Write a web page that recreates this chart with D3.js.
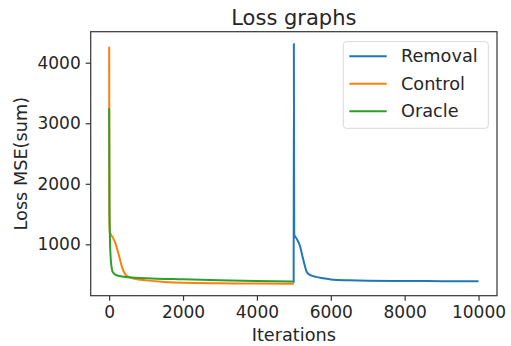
<!DOCTYPE html>
<html>
<head>
<meta charset="utf-8">
<script src="https://cdn.jsdelivr.net/npm/d3@7"></script>
<style>
  html, body { margin: 0; padding: 0; background: #fff; }
  text { font-family: "DejaVu Sans", sans-serif; fill: #262626; }
</style>
</head>
<body>
<div id="chart"></div>
<script>
// Loss curves
const controlIters = [0, 5, 20, 50, 100, 150, 250, 350, 430, 500, 700, 1000, 1500, 2000, 3000, 4000, 5000];
const controlLoss  = [4264, 1500, 1200, 1160, 1110, 1050, 850, 620, 510, 470, 430, 405, 378, 364, 356, 352, 350];

const oracleIters = [0, 10, 30, 60, 100, 200, 400, 700, 1000, 2000, 3000, 4000, 5000];
const oracleLoss  = [3246, 1500, 900, 650, 540, 490, 465, 450, 440, 422, 408, 396, 388];

const removalIters = [4995, 5000, 5010, 5080, 5160, 5250, 5350, 5450, 5600, 5800, 6000, 6500, 7000, 8000, 9000, 10000];
const removalLoss  = [365, 4314, 1160, 1090, 985, 760, 545, 490, 463, 440, 420, 405, 398, 394, 392, 390];

const seriesNames = ["Removal", "Control", "Oracle"];
const seriesColors = ["#1f77b4", "#ff7f0e", "#2ca02c"];
const xTicks = [0, 2000, 4000, 6000, 8000, 10000];
const yTicks = [1000, 2000, 3000, 4000];

const width = 511, height = 346;
const margin = {left: 90.7, right: 511 - 497, top: 31.7, bottom: 346 - 295.7};

const series = [
  {name: seriesNames[0], color: seriesColors[0], xs: removalIters, ys: removalLoss},
  {name: seriesNames[1], color: seriesColors[1], xs: controlIters, ys: controlLoss},
  {name: seriesNames[2], color: seriesColors[2], xs: oracleIters, ys: oracleLoss}
];

// matplotlib style 5% padding
const allY = series.flatMap(s => s.ys);
const xMin = 0, xMax = 10000;
const yMin = d3.min(allY), yMax = d3.max(allY);
const xPad = (xMax - xMin) * 0.05, yPad = (yMax - yMin) * 0.05;

const x = d3.scaleLinear().domain([xMin - xPad, xMax + xPad]).range([margin.left, width - margin.right]);
const y = d3.scaleLinear().domain([yMin - yPad, yMax + yPad]).range([height - margin.bottom, margin.top]);

const svg = d3.select("#chart").append("svg")
  .attr("width", width)
  .attr("height", height);

// lines
const line = d3.line().x(d => x(d[0])).y(d => y(d[1])).curve(d3.curveMonotoneX);
series.forEach(s => {
  svg.append("path")
    .datum(s.xs.map((v, i) => [v, s.ys[i]]))
    .attr("fill", "none")
    .attr("stroke", s.color)
    .attr("stroke-width", 2)
    .attr("stroke-linejoin", "round")
    .attr("d", line);
});

// axes
const xAxis = svg.append("g")
  .attr("transform", `translate(0,${height - margin.bottom})`)
  .call(d3.axisBottom(x).tickValues(xTicks).tickSize(5).tickPadding(5).tickFormat(d3.format("d")));
const yAxis = svg.append("g")
  .attr("transform", `translate(${margin.left},0)`)
  .call(d3.axisLeft(y).tickValues(yTicks).tickSize(5).tickPadding(5).tickFormat(d3.format("d")));
[xAxis, yAxis].forEach(a => {
  a.select(".domain").remove();
  a.selectAll("line").attr("stroke", "#333").attr("stroke-width", 1.2);
  a.selectAll("text").attr("font-size", 17).attr("fill", "#262626");
});

// frame
svg.append("rect")
  .attr("x", margin.left).attr("y", margin.top)
  .attr("width", width - margin.left - margin.right)
  .attr("height", height - margin.top - margin.bottom)
  .attr("fill", "none")
  .attr("stroke", "#333")
  .attr("stroke-width", 1.2);

// title and labels
svg.append("text")
  .attr("x", (margin.left + width - margin.right) / 2)
  .attr("y", 25)
  .attr("text-anchor", "middle")
  .attr("font-size", 21)
  .text("Loss graphs");

svg.append("text")
  .attr("x", (margin.left + width - margin.right) / 2)
  .attr("y", 341)
  .attr("text-anchor", "middle")
  .attr("font-size", 17.7)
  .text("Iterations");

svg.append("text")
  .attr("transform", `translate(27,${(margin.top + height - margin.bottom) / 2}) rotate(-90)`)
  .attr("text-anchor", "middle")
  .attr("font-size", 17.7)
  .text("Loss MSE(sum)");

// legend
const legend = svg.append("g").attr("transform", "translate(343.3,41.7)");
legend.append("rect")
  .attr("width", 145).attr("height", 86.6)
  .attr("rx", 3)
  .attr("fill", "#fff")
  .attr("fill-opacity", 0.8)
  .attr("stroke", "#d9d9d9");
series.forEach((s, i) => {
  const ly = 14.5 + i * 27.5;
  legend.append("line")
    .attr("x1", 6).attr("x2", 43.4)
    .attr("y1", ly).attr("y2", ly)
    .attr("stroke", s.color).attr("stroke-width", 2);
  legend.append("text")
    .attr("x", 57.7).attr("y", ly)
    .attr("dy", "0.35em")
    .attr("font-size", 17.7)
    .text(s.name);
});
</script>
</body>
</html>
